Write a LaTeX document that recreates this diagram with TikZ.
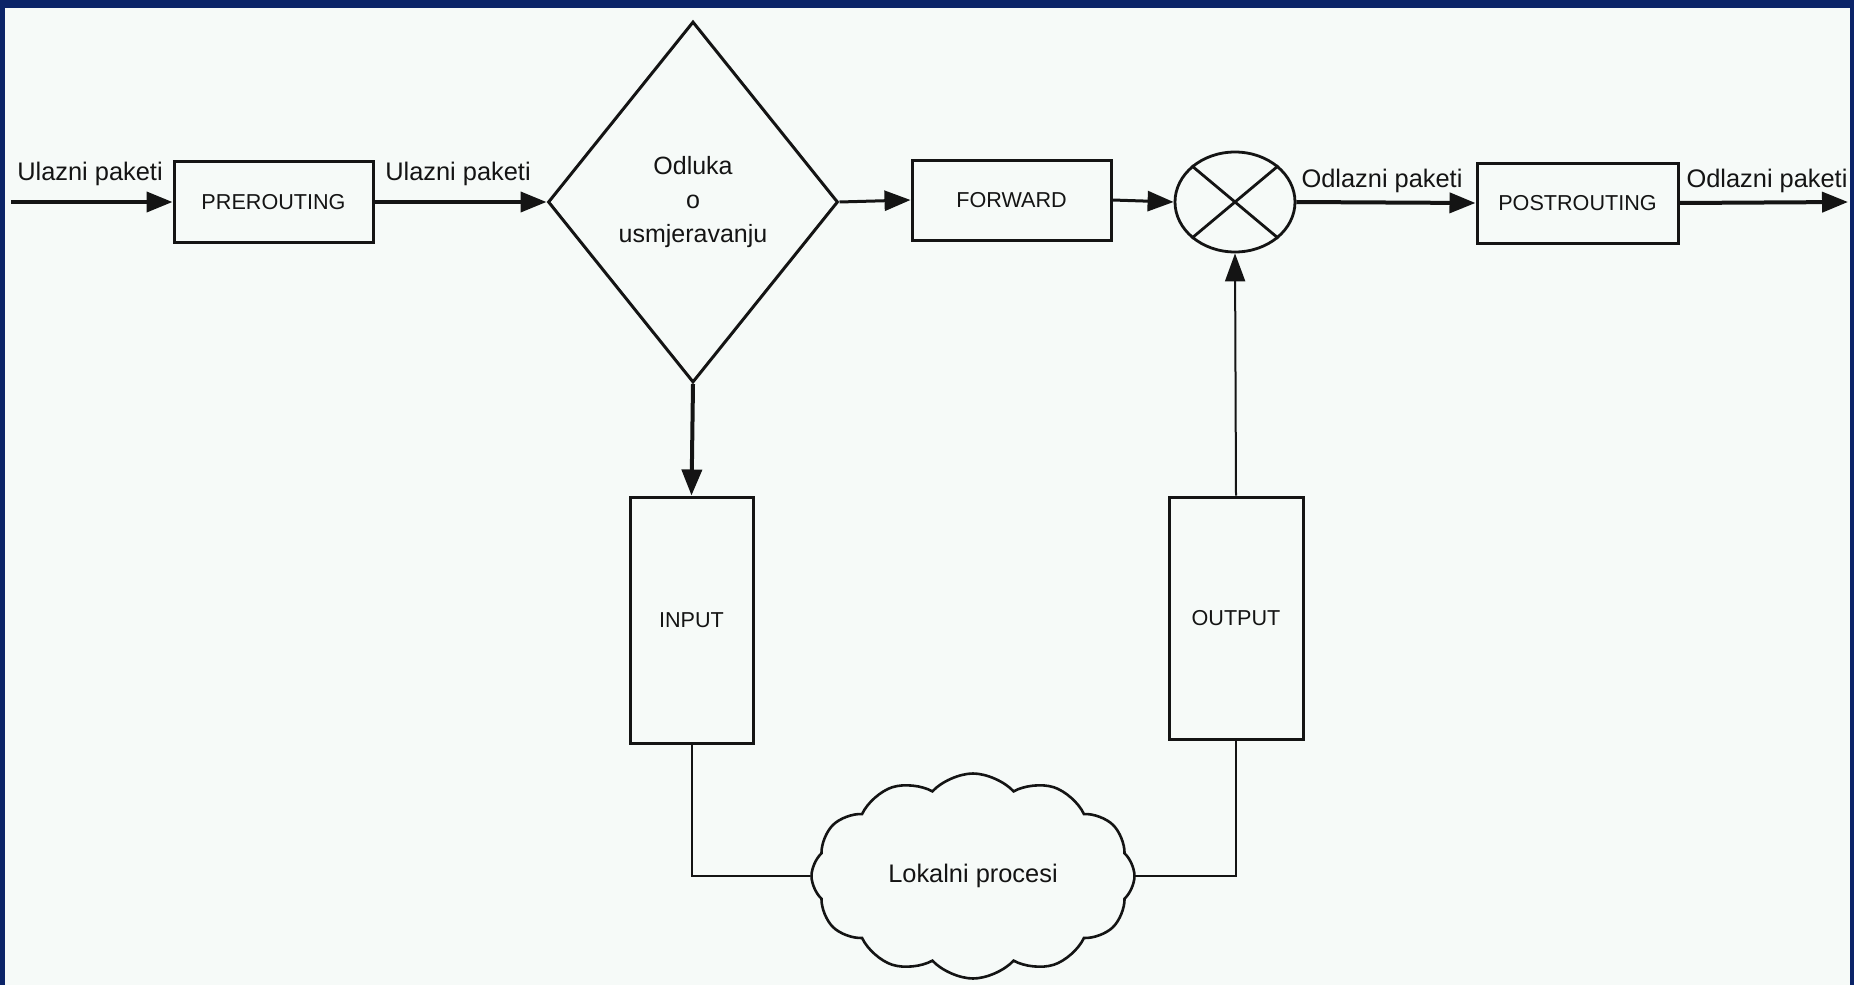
\documentclass[tikz,border=0pt]{standalone}
\usepackage{fontspec}
\setmainfont{Liberation Sans}
\usetikzlibrary{shapes.geometric,shapes.symbols,arrows.meta}
\definecolor{frame}{RGB}{11,36,104}
\definecolor{paper}{RGB}{246,250,248}
\definecolor{ink}{RGB}{20,20,20}
\begin{document}
\begin{tikzpicture}[x=0.5pt,y=-0.5pt,
  box/.style={draw=ink, line width=1.5pt, rectangle, inner sep=0pt, text=ink,
    font=\fontsize{10.8}{13}\selectfont},
  lbl/.style={font=\fontsize{12.7}{15}\selectfont, text=ink, inner sep=0pt, anchor=base},
  thickarrow/.style={draw=ink, line width=2pt, -{Triangle[length=13pt,width=10pt]}},
  medarrow/.style={draw=ink, line width=1.5pt, -{Triangle[length=13pt,width=10pt]}},
  thinarrow/.style={draw=ink, line width=1pt, -{Triangle[length=14pt,width=10pt]}},
  thinline/.style={draw=ink, line width=1pt}
]
\fill[frame] (0,0) rectangle (1854,985);
\fill[paper] (4.5,7.5) rectangle (1850,985);
\useasboundingbox (0,0) rectangle (1854,985);

% nodes
\node[box, minimum width=99.5pt, minimum height=40.5pt] (pre) at (273.5,202) {PREROUTING};
\node[draw=ink, line width=1.5pt, diamond, minimum width=145pt, minimum height=180.5pt,
  inner sep=0pt, align=center, text=ink, font=\fontsize{12.5}{17}\selectfont] (dec) at (693,202)
  {Odluka\\o\\usmjeravanju};
\node[box, minimum width=99.5pt, minimum height=40pt] (fwd) at (1011.5,200) {FORWARD};
\node[draw=ink, line width=1.4pt, ellipse, minimum width=60pt, minimum height=50pt, inner sep=0pt] (mix) at (1235,202) {};
\draw[ink, line width=1.4pt] (mix.north west) -- (mix.south east);
\draw[ink, line width=1.4pt] (mix.north east) -- (mix.south west);
\node[box, minimum width=100.5pt, minimum height=40pt] (post) at (1577.5,203) {POSTROUTING};
\node[box, minimum width=61.5pt, minimum height=123pt] (input) at (691.5,620) {INPUT};
\node[box, minimum width=67pt, minimum height=121pt] (output) at (1236,618) {OUTPUT};
\node[draw=ink, line width=1.3pt, cloud, cloud puffs=12, cloud puff arc=95, aspect=1.6,
  minimum width=161.5pt, minimum height=102.5pt, inner sep=0pt, text=ink,
  font=\fontsize{12.7}{15}\selectfont] (cloud) at (973,876) {Lokalni procesi};

\coordinate (in) at (11,202);
\coordinate (out) at (1848,202);

% labels
\node[lbl] (l1) at (90,180) {Ulazni paketi};
\node[lbl] (l2) at (458,180) {Ulazni paketi};
\node[lbl] (l3) at (1382,187) {Odlazni paketi};
\node[lbl] (l4) at (1767,187) {Odlazni paketi};

% connectors
\draw[thickarrow] (in) -- (pre.west);
\draw[thickarrow] (pre.east) -- (dec.west);
\draw[medarrow] (dec.east) -- (fwd.west);
\draw[medarrow] (fwd.east) -- (mix.west);
\draw[thickarrow] (mix.east) -- (post.west);
\draw[thickarrow] (post.east) -- (out);
\draw[thickarrow] (dec.south) -- (input.north);
\draw[thinarrow] (output.north) -- (mix.south);
\draw[thinline] (input.south) |- (cloud.west);
\draw[thinline] (output.south) |- (cloud.east);
\end{tikzpicture}
\end{document}
